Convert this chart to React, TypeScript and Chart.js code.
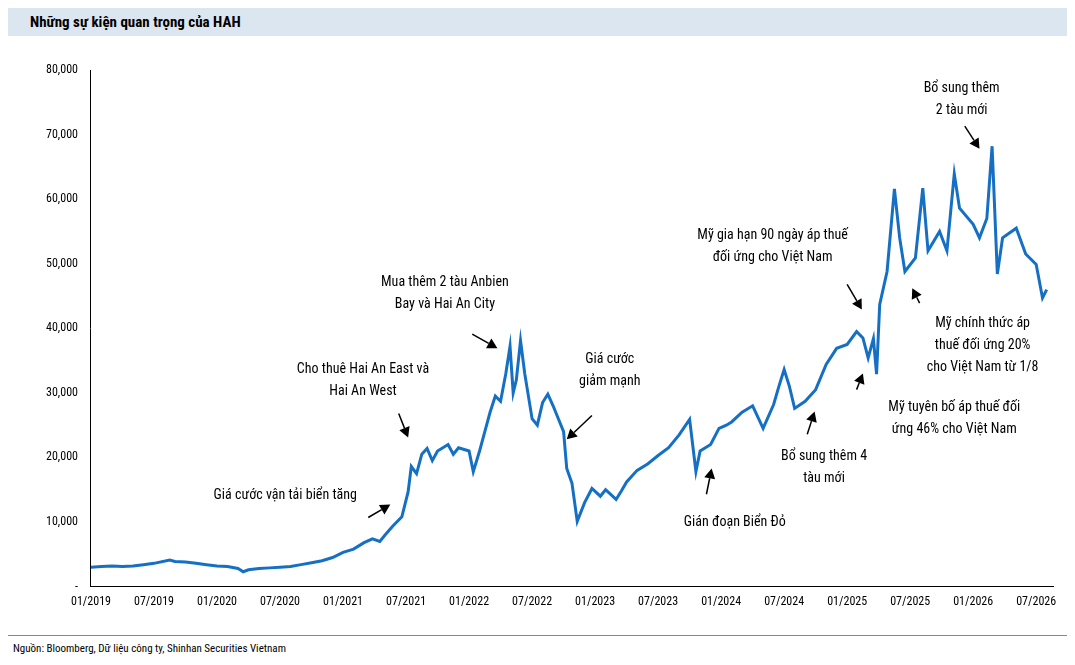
import React, { useEffect, useRef } from "react";
import { Chart, registerables } from "chart.js";
Chart.register(...registerables);

const FONT = "'Liberation Sans Narrow', 'Roboto Condensed', Roboto, sans-serif";

const tickLabels = ["01/2019","07/2019","01/2020","07/2020","01/2021","07/2021","01/2022","07/2022","01/2023","07/2023","01/2024","07/2024","01/2025","07/2025","01/2026","07/2026"];

// month index since 01/2019
const monthIdx = [0,1,2,3,4,5,6,7.5,8,9,10,11,12,13,14,14.5,15,16,17,18,19,20,21,22,23,24,25,26,26.8,27.5,28,28.7,29.6,30.2,30.5,31,31.5,32,32.5,33,34,34.5,35,36,36.4,37,37.5,38,38.5,39,39.5,39.9,40.2,40.5,40.9,41.3,41.6,42,42.5,43,43.5,44,44.5,45,45.3,45.8,46.3,47,47.7,48.5,49,50,50.5,51,52,53,54,55,56,57,57.6,58,58.5,59,59.8,60.5,61,62,63,64,65,65.5,66,66.5,67,68,69,70,71,72,72.9,73.5,74,74.5,74.8,75.1,75.8,76.5,77,77.5,78.5,79.2,79.7,80.8,81.5,82.2,82.7,84,84.6,85.3,85.8,86.3,86.8,88.1,89,90,90.6,91];
// price, thousand VND
const priceK = [3.0,3.1,3.2,3.1,3.2,3.4,3.6,4.1,3.9,3.8,3.6,3.4,3.2,3.1,2.8,2.3,2.6,2.8,2.9,3.0,3.1,3.4,3.7,4.0,4.5,5.3,5.8,6.8,7.4,7.0,8.0,9.3,10.8,14.7,18.6,17.5,20.5,21.4,19.5,21,22,20.5,21.5,21,17.8,21,24,27,29.5,28.7,33,37.2,30,32,38.1,33,30,26,25,28.5,29.8,28,26,24,18.3,16,10.1,13,15.2,14,15,13.5,14.8,16.2,18,19,20.3,21.5,23.5,25.9,17.8,21,21.5,22,24.5,25,25.5,27,28,24.5,28.2,31,33.6,31,27.6,28.7,30.5,34.4,36.9,37.5,39.5,38.5,35.4,38.4,32.9,43.7,48.8,61.6,54,48.8,50.9,61.7,52,55,52,63.9,58.6,56.1,54,57,68.2,48.4,54,55.5,51.5,49.9,44.7,46];

const annTexts = [
  ["Giá cước vận tải biển tăng"],
  ["Cho thuê Hai An East và", "Hai An West"],
  ["Mua thêm 2 tàu Anbien", "Bay và Hai An City"],
  ["Giá cước", "giảm mạnh"],
  ["Gián đoạn Biển Đỏ"],
  ["Bổ sung thêm 4", "tàu mới"],
  ["Mỹ gia hạn 90 ngày áp thuế", "đối ứng cho Việt Nam"],
  ["Mỹ tuyên bố áp thuế đối", "ứng 46% cho Việt Nam"],
  ["Mỹ chính thức áp", "thuế đối ứng 20%", "cho Việt Nam từ 1/8"],
  ["Bổ sung thêm", "2 tàu mới"],
];
// [textMonth, textValueK, arrowFromM, arrowFromV, arrowToM, arrowToV]
const annPos = [
  [18.5,14.1,26.4,10.7,28.5,12.7],
  [25.9,33.6,29.3,26.8,30.2,23.1],
  [33.7,47.1,36.3,39.1,38.7,36.9],
  [49.4,35.2,47.7,26.5,45.3,22.8],
  [61.3,9.9,58.6,14.3,59.1,18.3],
  [69.8,20.2,68.2,23.6,68.9,27.1],
  [64.9,54.3,72.0,46.8,73.4,42.9],
  [82.2,27.8,72.9,30.5,73.5,33.0],
  [84.9,40.8,78.9,43.9,78.2,46.2],
  [82.9,77.2,83.2,71.3,84.6,67.8],
];

const annPlugin = {
  id: "ann",
  afterDatasetsDraw(chart: any) {
    const { ctx, scales } = chart;
    const xs = scales.x, ys = scales.y;
    ctx.save();
    ctx.font = `14px ${FONT}`;
    ctx.fillStyle = "#000";
    ctx.textAlign = "center";
    ctx.textBaseline = "middle";
    annPos.forEach((p, i) => {
      const tx = xs.getPixelForValue(p[0]);
      const ty = ys.getPixelForValue(p[1] * 1000);
      annTexts[i].forEach((t, j) => ctx.fillText(t, tx, ty + j * 22));
      const x1 = xs.getPixelForValue(p[2]), y1 = ys.getPixelForValue(p[3] * 1000);
      const x2 = xs.getPixelForValue(p[4]), y2 = ys.getPixelForValue(p[5] * 1000);
      const a = Math.atan2(y2 - y1, x2 - x1);
      const L = 10, W = 5.5;
      const bx = x2 - L * Math.cos(a), by = y2 - L * Math.sin(a);
      ctx.strokeStyle = "#000";
      ctx.lineWidth = 1.5;
      ctx.beginPath(); ctx.moveTo(x1, y1); ctx.lineTo(bx, by); ctx.stroke();
      ctx.beginPath();
      ctx.moveTo(x2, y2);
      ctx.lineTo(bx + W * Math.sin(a), by - W * Math.cos(a));
      ctx.lineTo(bx - W * Math.sin(a), by + W * Math.cos(a));
      ctx.closePath(); ctx.fill();
    });
    ctx.restore();
  },
};

export default function App() {
  const ref = useRef<HTMLCanvasElement>(null);
  useEffect(() => {
    const data = monthIdx.map((m, i) => ({ x: m, y: priceK[i] * 1000 }));
    const chart = new Chart(ref.current!, {
      type: "line",
      data: { datasets: [{ data, borderColor: "#1570c4", borderWidth: 3, pointRadius: 0, tension: 0 }] },
      options: {
        animation: false,
        responsive: false,
        layout: { padding: { top: 32, right: 14, left: 30 } },
        plugins: { legend: { display: false }, tooltip: { enabled: false } },
        scales: {
          x: {
            type: "linear", min: 0, max: 91.6,
            afterBuildTicks: (ax: any) => { ax.ticks = tickLabels.map((_, i) => ({ value: i * 6 })); },
            ticks: { callback: (v: any) => tickLabels[Math.round(v / 6)] ?? "", color: "#000", font: { family: FONT, size: 12 }, maxRotation: 0, autoSkip: false },
            grid: { display: false, drawTicks: true, tickLength: 5, color: "#000" },
            border: { color: "#000" },
          },
          y: {
            min: 0, max: 80000,
            ticks: { stepSize: 10000, callback: (v: any) => (v === 0 ? "-" : Number(v).toLocaleString("en-US")), color: "#000", font: { family: FONT, size: 12 }, padding: 8 },
            grid: { display: false, tickLength: 5, color: "#000" },
            border: { color: "#000" },
          },
        },
      },
      plugins: [annPlugin],
    });
    return () => chart.destroy();
  }, []);
  return (
    <div style={{ position: "relative", width: 1059, height: 649, fontFamily: FONT }}>
      <div style={{ position: "absolute", left: 0, top: 0, width: 1059, height: 28, background: "#dce6f1", fontWeight: "bold", fontSize: 15, lineHeight: "28px", paddingLeft: 22, boxSizing: "border-box" }}>
        Những sự kiện quan trọng của HAH
      </div>
      <canvas ref={ref} width={1059} height={574} style={{ position: "absolute", left: 0, top: 30 }} />
      <div style={{ position: "absolute", left: 0, top: 627, width: 1059, borderTop: "1px solid #888" }} />
      <div style={{ position: "absolute", left: 5, top: 634, fontSize: 11 }}>
        Nguồn: Bloomberg, Dữ liệu công ty, Shinhan Securities Vietnam
      </div>
    </div>
  );
}
